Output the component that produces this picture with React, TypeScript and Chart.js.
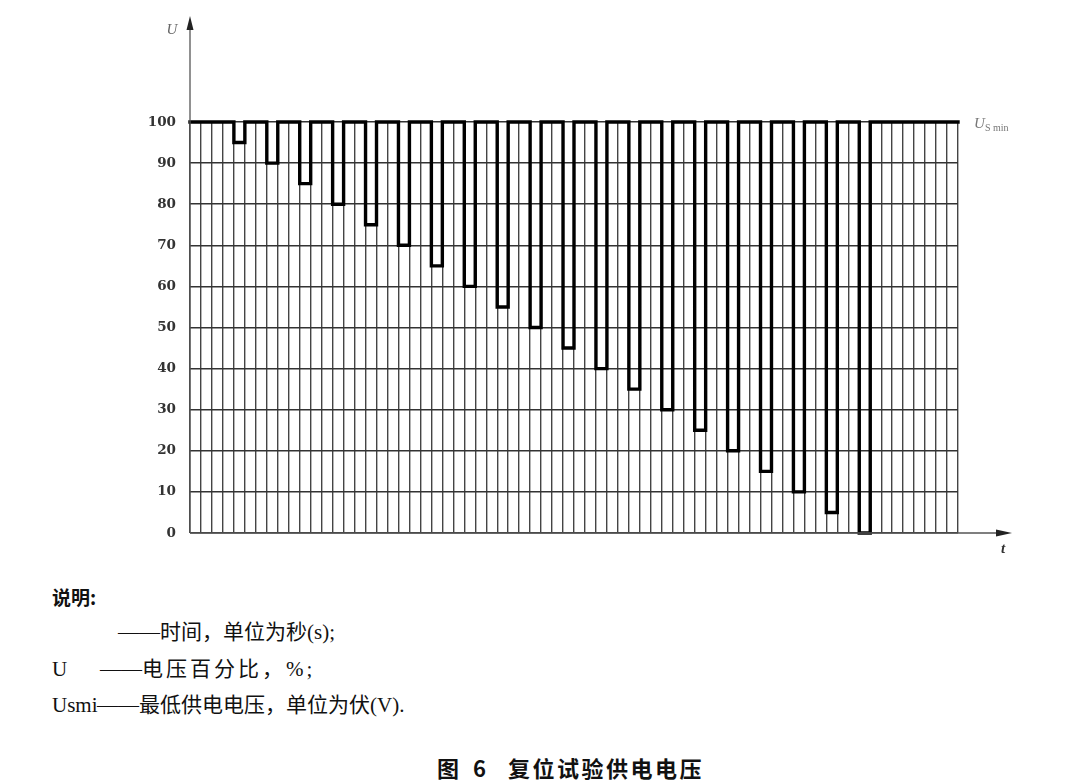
import React, { useEffect, useRef } from "react";
import { Chart, registerables } from "chart.js";

Chart.register(...registerables);

// ---- data ----
const dipStart = [4, 7, 10, 13, 16, 19, 22, 25, 28, 31, 34, 37, 40, 43, 46, 49, 52, 55, 58, 61];
const dipLevel = [95, 90, 85, 80, 75, 70, 65, 60, 55, 50, 45, 40, 35, 30, 25, 20, 15, 10, 5, 0];
const nominalLevel = 100;
const tStart = 0;
const tEnd = 70;
const dipWidth = 1;
const yTickValues = [0, 10, 20, 30, 40, 50, 60, 70, 80, 90, 100];

const legendLines = [
  { key: "", dash: "——", text: "时间，单位为秒(s);" },
  { key: "U", dash: "——", text: "电压百分比，%;" },
  { key: "Usmi", dash: "——", text: "最低供电电压，单位为伏(V)." },
];

function buildPoints() {
  const pts: { x: number; y: number }[] = [{ x: tStart, y: nominalLevel }];
  dipStart.forEach((s, i) => {
    pts.push({ x: s, y: dipLevel[i] });
    pts.push({ x: s + dipWidth, y: nominalLevel });
  });
  pts.push({ x: tEnd, y: nominalLevel });
  return pts;
}

const axisPlugin = {
  id: "axisArrows",
  afterDatasetsDraw(chart: any) {
    const { ctx, chartArea } = chart;
    const x0 = chartArea.left;
    const y0 = chartArea.bottom;
    ctx.save();
    ctx.strokeStyle = "#555";
    ctx.fillStyle = "#222";
    ctx.lineWidth = 1.3;
    // y axis
    ctx.beginPath();
    ctx.moveTo(x0, y0);
    ctx.lineTo(x0, 24);
    ctx.stroke();
    ctx.beginPath();
    ctx.moveTo(x0, 16);
    ctx.lineTo(x0 - 3.5, 30);
    ctx.lineTo(x0 + 3.5, 30);
    ctx.closePath();
    ctx.fill();
    // x axis
    ctx.beginPath();
    ctx.moveTo(x0, y0);
    ctx.lineTo(1000, y0);
    ctx.stroke();
    ctx.beginPath();
    ctx.moveTo(1012, y0);
    ctx.lineTo(996, y0 - 3.5);
    ctx.lineTo(996, y0 + 3.5);
    ctx.closePath();
    ctx.fill();
    // labels
    ctx.fillStyle = "#666";
    ctx.font = "italic 15px 'Liberation Serif'";
    ctx.textAlign = "center";
    ctx.textBaseline = "middle";
    ctx.fillText("U", 172, 30);
    ctx.fillStyle = "#333";
    ctx.font = "italic bold 15px 'Liberation Serif'";
    ctx.fillText("t", 1003, 549);
    ctx.fillStyle = "#777";
    ctx.textAlign = "left";
    ctx.font = "italic 15px 'Liberation Serif'";
    ctx.fillText("U", 974, 124);
    ctx.font = "10px 'Liberation Serif'";
    ctx.fillText("S min", 985, 128);
    ctx.restore();
  },
};

export default function App() {
  const ref = useRef<HTMLCanvasElement>(null);

  useEffect(() => {
    if (!ref.current) return;
    const chart = new Chart(ref.current, {
      type: "line",
      data: {
        datasets: [
          {
            data: buildPoints(),
            borderColor: "#000",
            borderWidth: 3.4,
            pointRadius: 0,
            stepped: "before",
            fill: false,
            clip: false as any,
            borderJoinStyle: "miter",
            borderCapStyle: "square",
          },
        ],
      },
      options: {
        animation: false,
        responsive: false,
        devicePixelRatio: 1,
        layout: { padding: { left: 0, right: 122, top: 122, bottom: 47 } },
        plugins: { legend: { display: false }, tooltip: { enabled: false } },
        scales: {
          x: {
            type: "linear",
            min: tStart,
            max: tEnd,
            border: { display: false },
            grid: { color: "#444", lineWidth: 1.4, drawTicks: false },
            ticks: { display: false, stepSize: 1, autoSkip: false, maxTicksLimit: 200 },
            afterFit: (s: any) => {
              s.height = 0;
            },
          },
          y: {
            min: 0,
            max: 100,
            border: { display: false },
            grid: { color: "#333", lineWidth: 1.6, drawTicks: false },
            afterBuildTicks: (s: any) => {
              s.ticks = yTickValues.map((v) => ({ value: v }));
            },
            ticks: {
              padding: 14,
              color: "#333",
              font: { family: "'DejaVu Serif'", weight: "bold", size: 13.5 },
            },
            afterFit: (s: any) => {
              s.width = 190;
            },
          },
        },
      },
      plugins: [axisPlugin],
    });
    return () => chart.destroy();
  }, []);

  const textFont = "'Liberation Serif', 'Noto Sans CJK SC', serif";
  return (
    <div style={{ position: "absolute", left: 0, top: 0, width: 1080, height: 783, background: "#fff" }}>
      <canvas ref={ref} width={1080} height={580} style={{ display: "block", width: 1080, height: 580 }} />
      <div
        style={{
          position: "absolute",
          left: 52,
          top: 586,
          fontSize: 19,
          lineHeight: "22px",
          fontWeight: "bold",
          fontFamily: "'Noto Sans CJK SC', sans-serif",
          color: "#111",
        }}
      >
        说明:
      </div>
      {legendLines.map((l, i) => (
        <div
          key={i}
          style={{
            position: "absolute",
            left: 52,
            top: 620 + i * 36.5,
            fontSize: 21,
            lineHeight: "24px",
            fontFamily: textFont,
            color: "#111",
            whiteSpace: "nowrap",
          }}
        >
          <span style={{ display: "inline-block", width: l.key === "" ? 66 : l.key === "U" ? 48 : 45 }}>{l.key}</span>
          <span>{l.dash}</span>
          <span style={{ letterSpacing: i === 1 ? 3 : 0 }}>{l.text}</span>
        </div>
      ))}
      <div
        style={{
          position: "absolute",
          left: 437,
          top: 755,
          fontSize: 22,
          lineHeight: "24px",
          fontWeight: "bold",
          fontFamily: "'Noto Sans CJK SC', sans-serif",
          color: "#111",
          whiteSpace: "nowrap",
        }}
      >
        <span>图</span>
        <span style={{ marginLeft: 14 }}>6</span>
        <span style={{ marginLeft: 22, letterSpacing: 2.5 }}>复位试验供电电压</span>
      </div>
    </div>
  );
}
